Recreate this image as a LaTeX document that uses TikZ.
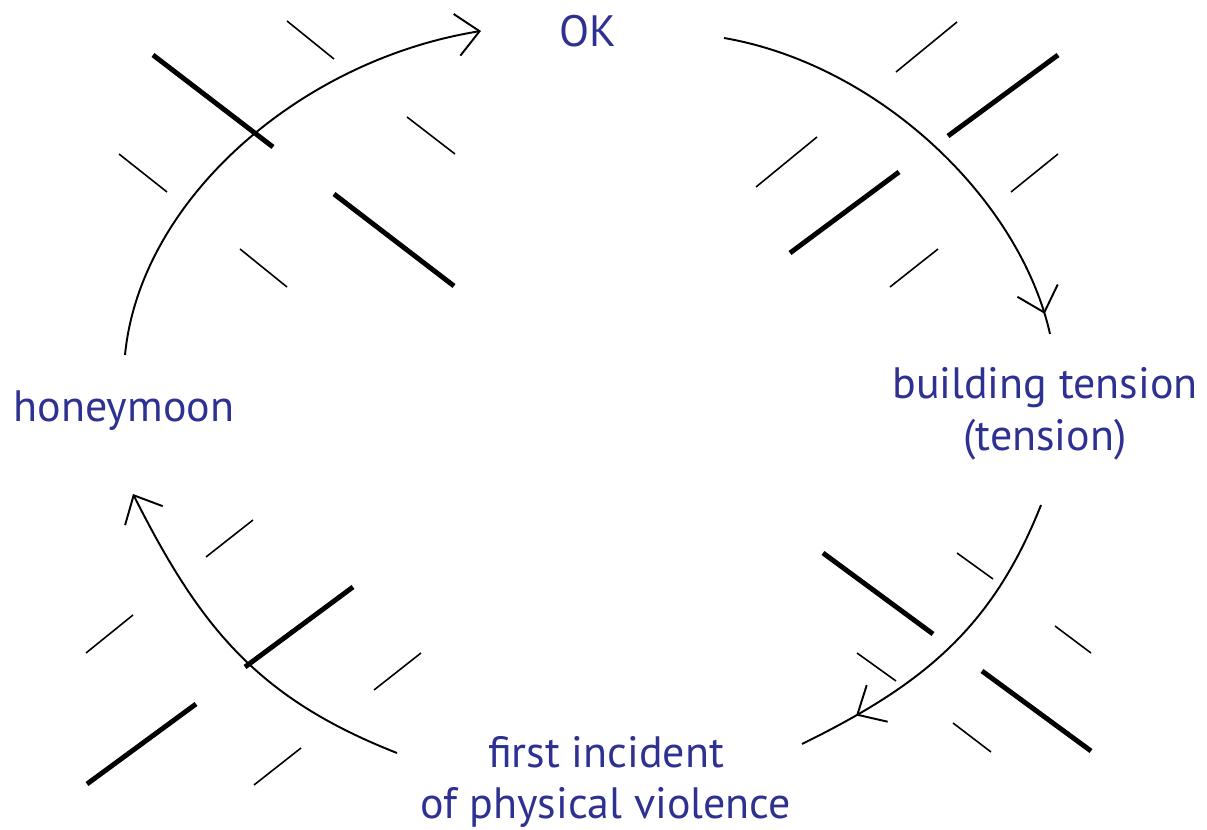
\documentclass[tikz,border=0pt]{standalone}
\usepackage{fontspec}
\setmainfont{PT Sans}
\usetikzlibrary{arrows.meta,decorations.markings}
\definecolor{lblue}{HTML}{2E3192}
\tikzset{
  barb/.tip={Straight Barb[length=13pt,width=24pt,line width=1.1pt]},
  lbl/.style={text=lblue, font=\fontsize{25}{29.5}\selectfont, align=center, inner sep=0pt},
  thinhatch/.style={line width=0.9pt},
  thickhatch/.style={line width=2.8pt},
  cyc/.style={line width=1.1pt},
  tipat/.style={postaction={decorate, decoration={markings, mark=at position #1 with {\arrow{barb}}}}}
}
\begin{document}
\begin{tikzpicture}[x=0.02cm,y=-0.02cm]
\useasboundingbox (0,0) rectangle (1207,830);
% labels
\node[lbl] (ok) at (588,31) {OK};
\node[lbl] (tension) at (1045,414) {building tension\\(tension)};
\node[lbl] (violence) at (606,782) {first incident\\of physical violence};
\node[lbl] (honey) at (124,411) {honeymoon};
% arc end points
\coordinate (a1s) at (125,355); \coordinate (a1e) at (481,31);
\coordinate (a2s) at (724,38);  \coordinate (a2e) at (1050,334);
\coordinate (a3s) at (1041,505); \coordinate (a3e) at (802,744);
\coordinate (a4s) at (397,753); \coordinate (a4e) at (133,494);
% arcs
\draw[cyc, -{barb}] (a1s) .. controls (140,200) and (300,60) .. (a1e);
\draw[cyc, tipat=0.955] (a2s) .. controls (880,65) and (1020,200) .. (a2e);
\draw[cyc, tipat=0.824] (a3s) .. controls (992,629) and (922,685) .. (a3e);
\draw[cyc, -{barb}] (a4s) .. controls (257,698) and (200,627) .. (a4e);
% top-left hatches
\draw[thinhatch] (287,21) -- (334,59);
\draw[thickhatch] (153,55) -- (273,147);
\draw[thinhatch] (407,117) -- (455,154);
\draw[thinhatch] (119,154) -- (167,192);
\draw[thickhatch] (334,194) -- (454,286);
\draw[thinhatch] (240,249) -- (287,287);
% top-right hatches
\draw[thinhatch] (896,72) -- (957,22);
\draw[thickhatch] (948,136) -- (1058,55);
\draw[thinhatch] (756,187) -- (817,137);
\draw[thinhatch] (1011,192) -- (1058,154);
\draw[thickhatch] (790,253) -- (899,172);
\draw[thinhatch] (890,287) -- (938,249);
% bottom-right hatches
\draw[thickhatch] (823,553) -- (933,634);
\draw[thinhatch] (957,553) -- (993,579);
\draw[thinhatch] (1055,626) -- (1091,653);
\draw[thinhatch] (857,653) -- (896,681);
\draw[thickhatch] (982,671) -- (1091,751);
\draw[thinhatch] (953,723) -- (991,752);
% bottom-left hatches
\draw[thinhatch] (206,557) -- (253,520);
\draw[thickhatch] (245,667) -- (353,587);
\draw[thinhatch] (86,653) -- (133,615);
\draw[thinhatch] (374,690) -- (421,653);
\draw[thickhatch] (87,784) -- (196,704);
\draw[thinhatch] (254,785) -- (301,748);
\end{tikzpicture}
\end{document}
